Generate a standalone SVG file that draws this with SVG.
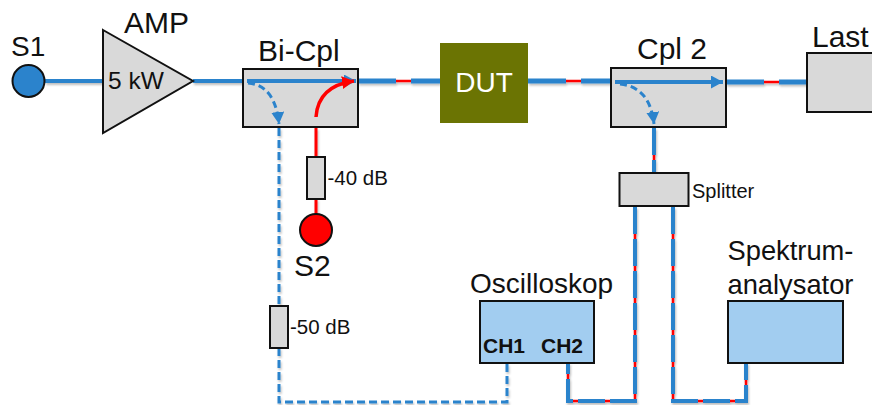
<svg xmlns="http://www.w3.org/2000/svg" width="872" height="405" viewBox="0 0 872 405">
<style>
text{font-family:"Liberation Sans",Arial,sans-serif;fill:#111}
.g{fill:#d9d9d9;stroke:#111;stroke-width:2}
.b{fill:#a2cdf0;stroke:#111;stroke-width:2}
.l{font-size:28px}
.k{font-size:27.300px}
.m{font-size:30px}
.s{font-size:20.500px}
.bl{fill:none;stroke:#2b83cc;stroke-width:4}
.bd{fill:none;stroke:#2b83cc;stroke-width:3;stroke-dasharray:8 4}
.rb{fill:none;stroke:#f00;stroke-width:2.500}
.bt{fill:none;stroke:#2b83cc;stroke-width:5;stroke-dasharray:38 15}
.bv{fill:none;stroke:#2b83cc;stroke-width:4;stroke-dasharray:27 5}
</style>
<defs>
<filter id="sh" x="-5%" y="-5%" width="110%" height="110%"><feDropShadow dx="1" dy="2" stdDeviation="1" flood-color="#000" flood-opacity="0.25"/></filter>
<marker id="ab" markerUnits="userSpaceOnUse" markerWidth="14" markerHeight="14" refX="12" refY="6.500" orient="auto"><path d="M0 0L12 6.500L0 13Z" fill="#2b83cc"/></marker>
<marker id="ar" markerUnits="userSpaceOnUse" markerWidth="14" markerHeight="14" refX="12" refY="6.500" orient="auto"><path d="M0 0L12 6.500L0 13Z" fill="#f00"/></marker>
</defs>
<g id="connectors" filter="url(#sh)">
<path class="bl" d="M45 81H103M193 81H243"/>
<path d="M316 128V158M316 199V214" fill="none" stroke="#f00" stroke-width="3"/>
<path class="rb" d="M358 81H440M528 81H611M726 82H807"/>
<path class="bt" d="M358 81H440M528 81H611M726 82H807"/>
<path class="bd" d="M279 128V306M279 348V402H507V363"/>
<path class="rb" d="M654 128V173M635 207V401H568V363M673 207V401H746V363"/>
<path class="bv" d="M654 128V173M635 207V401H568V363M673 207V401H746V363"/>
</g>
<g id="s1"><circle cx="28.500" cy="81" r="16" fill="#2b83cc" stroke="#111" stroke-width="2"/><text class="l" x="11" y="56">S1</text></g>
<g id="amp"><path class="g" d="M103 30L193 81L103 133Z"/><text x="108" y="89" font-size="24.500">5 kW</text><text class="m" x="124" y="33">AMP</text></g>
<g id="bi-cpl"><rect class="g" x="243" y="69" width="115" height="58"/><text class="m" x="258" y="61">Bi-Cpl</text>
<path class="bl" d="M247 81H356" marker-end="url(#ab)"/>
<path d="M248 83Q275 85 279 124" fill="none" stroke="#2b83cc" stroke-width="3" stroke-dasharray="7 4" marker-end="url(#ab)"/>
<path d="M316 117Q318 86 354 81" fill="none" stroke="#f00" stroke-width="3.500" marker-end="url(#ar)"/></g>
<g id="att40"><rect class="g" x="307" y="157" width="18" height="42"/><text class="s" x="327.500" y="185">-40 dB</text></g>
<g id="s2"><circle cx="316" cy="230" r="16" fill="#f00" stroke="#111" stroke-width="2"/><text class="m" x="294" y="276">S2</text></g>
<g id="att50"><rect class="g" x="270" y="306" width="18" height="42"/><text class="s" x="290" y="334">-50 dB</text></g>
<g id="dut"><rect x="440" y="43" width="88" height="80" fill="#6b7403"/><text x="484" y="92" font-size="28" style="fill:#fff" text-anchor="middle">DUT</text></g>
<g id="cpl2"><rect class="g" x="611" y="68" width="115" height="59"/><text class="m" x="637" y="59">Cpl 2</text>
<path class="bl" d="M615 82H723" marker-end="url(#ab)"/>
<path d="M620 84Q650 87 654 124" fill="none" stroke="#2b83cc" stroke-width="3" stroke-dasharray="7 4" marker-end="url(#ab)"/></g>
<g id="last"><rect class="g" x="807" y="53" width="71" height="59"/><text class="m" x="812" y="47">Last</text></g>
<g id="splitter"><rect class="g" x="619.500" y="173" width="69" height="33"/><text x="692" y="198" font-size="20">Splitter</text></g>
<g id="osc"><rect class="b" x="480" y="301" width="114" height="62"/><text class="l" x="470" y="293">Oscilloskop</text><text x="483" y="353" font-size="21" font-weight="bold">CH1</text><text x="541" y="353" font-size="21" font-weight="bold">CH2</text></g>
<g id="spec"><rect class="b" x="728" y="301" width="115" height="62"/><text class="k" x="727.500" y="260">Spektrum-</text><text class="k" x="727.500" y="294">analysator</text></g>
</svg>
